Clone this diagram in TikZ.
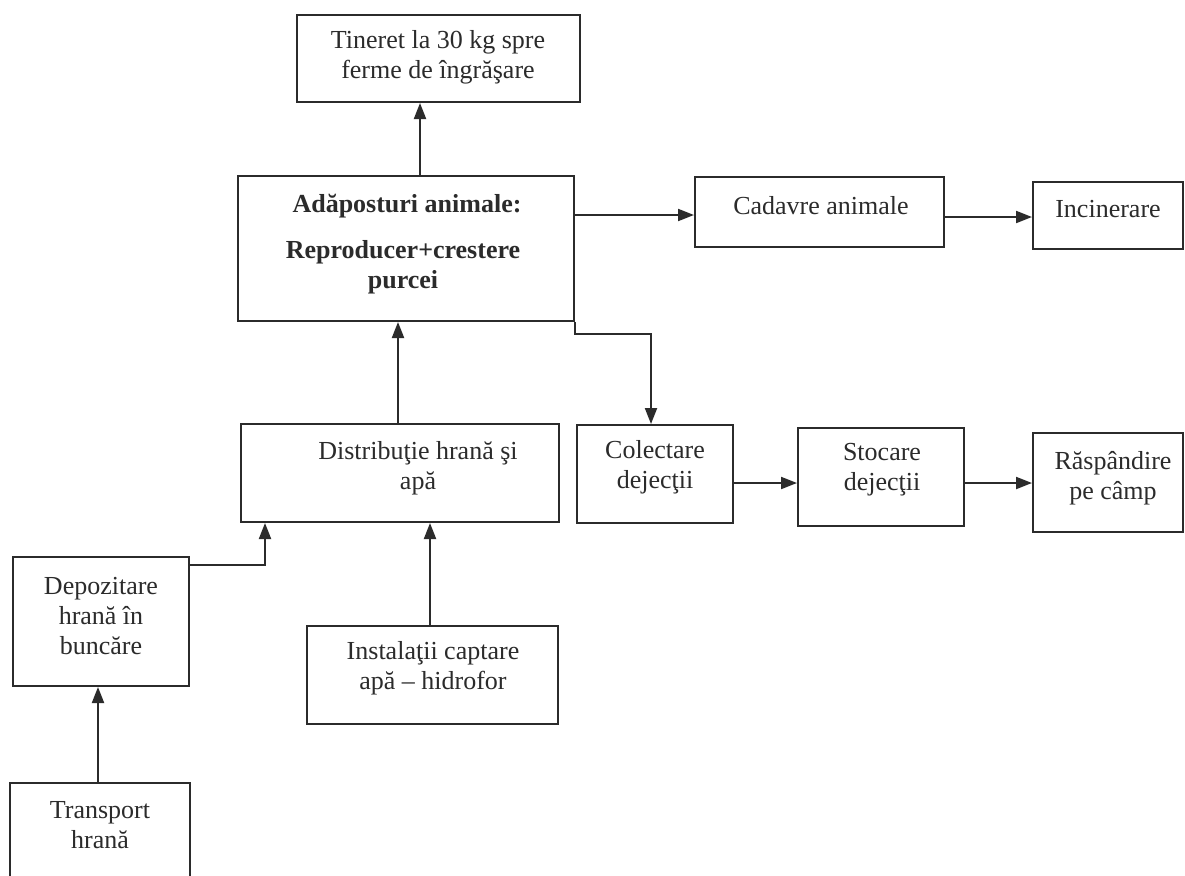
\documentclass[tikz,border=0pt]{standalone}
\usepackage{fontspec}
\setmainfont{Liberation Serif}
\usetikzlibrary{arrows.meta}
\definecolor{ink}{HTML}{2B2B2B}
\tikzset{
  box/.style={draw=ink, line width=2pt, rectangle, inner sep=0pt},
  txt/.style={text=ink, align=center, inner sep=0pt, font=\fontsize{26}{30}\selectfont},
  btxt/.style={txt, font=\fontsize{26}{30}\selectfont\bfseries},
  arr/.style={draw=ink, line width=2pt, -{Triangle[length=16pt,width=12pt]}},
}
\begin{document}
\begin{tikzpicture}[x=1pt,y=-1pt]
\clip (0,0) rectangle (1185,875);
\fill[white] (0,0) rectangle (1185,875);
% boxes
\node[box, minimum width=283, minimum height=87]  (top)  at (438.5,58.5) {};
\node[box, minimum width=336, minimum height=145] (main) at (406,248.5) {};
\node[box, minimum width=249, minimum height=70]  (cad)  at (819.5,212) {};
\node[box, minimum width=150, minimum height=67]  (inc)  at (1108,215.5) {};
\node[box, minimum width=318, minimum height=98]  (dist) at (400,473) {};
\node[box, minimum width=156, minimum height=98]  (col)  at (655,474) {};
\node[box, minimum width=166, minimum height=98]  (sto)  at (881,477) {};
\node[box, minimum width=150, minimum height=99]  (ras)  at (1108,482.5) {};
\node[box, minimum width=176, minimum height=129] (dep)  at (101,621.5) {};
\node[box, minimum width=251, minimum height=98]  (ins)  at (432.5,675) {};
\node[box, minimum width=180, minimum height=120] (tra)  at (100,843) {};
% texts
\node[txt]  (ttop)  at (438,57.5)  {Tineret la 30 kg spre\\ferme de îngrăşare};
\node[btxt] (tmain1) at (407,206) {Adăposturi animale:};
\node[btxt] (tmain2) at (403,267) {Reproducer+crestere\\purcei};
\node[txt]  (tcad)  at (821,206)  {Cadavre animale};
\node[txt]  (tinc)  at (1108,209) {Incinerare};
\node[txt]  (tdist) at (418,468)  {Distribuţie hrană şi\\apă};
\node[txt]  (tcol)  at (655,467)  {Colectare\\dejecţii};
\node[txt]  (tsto)  at (882,470)  {Stocare\\dejecţii};
\node[txt]  (tras)  at (1113,478) {Răspândire\\pe câmp};
\node[txt]  (tdep)  at (101,616)  {Depozitare\\hrană în\\buncăre};
\node[txt]  (tins)  at (433,668)  {Instalaţii captare\\apă – hidrofor};
\node[txt]  (ttra)  at (100,825)  {Transport\\hrană};
% connectors
\draw[arr] ([xshift=14pt]main.north) -- ([xshift=-18.5pt]top.south);
\coordinate (cadin) at ([yshift=-3pt]cad.west);
\draw[arr] (main.east |- cadin) -- (cadin);
\coordinate (incin) at ([yshift=-1.5pt]inc.west);
\draw[arr] (cad.east |- incin) -- (incin);
\coordinate (colin) at ([xshift=-4pt]col.north);
\draw[arr] (main.south east) -- ++(0,12) -| (colin);
\coordinate (stoin) at ([yshift=-6pt]sto.west);
\draw[arr] (col.east |- stoin) -- (stoin);
\coordinate (rasin) at ([yshift=-0.5pt]ras.west);
\draw[arr] (sto.east |- rasin) -- (rasin);
\coordinate (dm) at ([xshift=-2pt]dist.north);
\draw[arr] (dm) -- (dm |- main.south);
\coordinate (im) at ([xshift=-2.5pt]ins.north);
\draw[arr] (im) -- (im |- dist.south);
\coordinate (depout) at ([yshift=-9pt]dep.north east);
\coordinate (distin) at ([xshift=25pt]dist.south west);
\draw[arr] (depout) -| (distin);
\coordinate (tm) at ([xshift=-2pt]tra.north);
\draw[arr] (tm) -- (tm |- dep.south);
\end{tikzpicture}
\end{document}
